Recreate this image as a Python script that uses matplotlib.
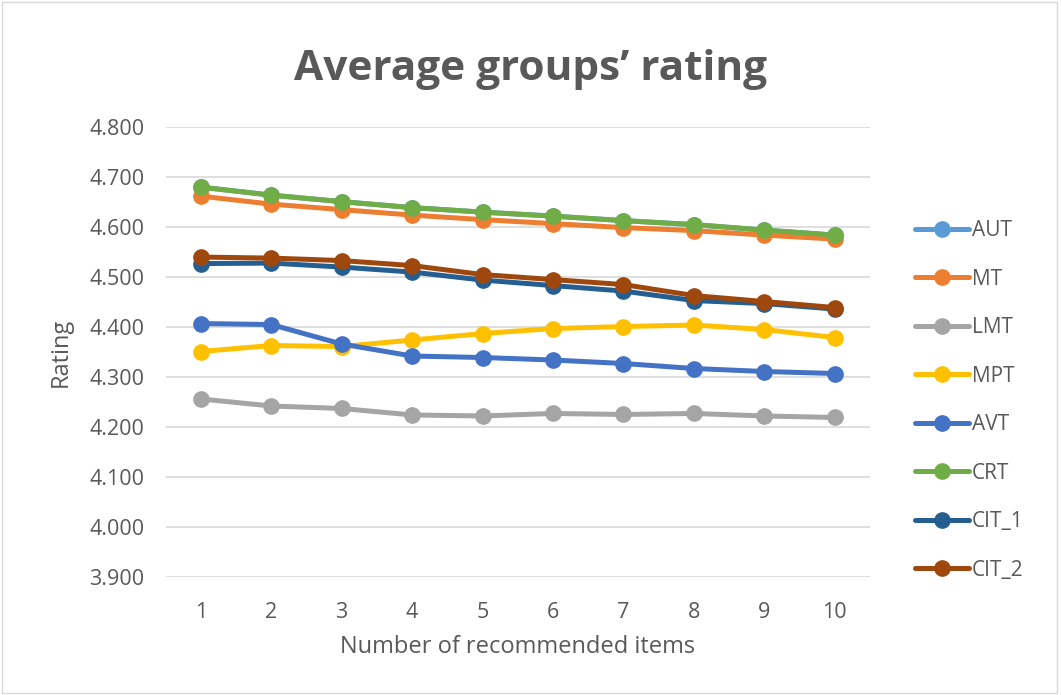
import matplotlib.pyplot as plt
from matplotlib.patches import Rectangle

plt.rcParams["font.family"] = ["Open Sans", "DejaVu Sans"]

items = list(range(1, 11))
series_names = ["AUT", "MT", "LMT", "MPT", "AVT", "CRT", "CIT_1", "CIT_2"]
colors = ["#5B9BD5", "#ED7D31", "#A5A5A5", "#FFC000", "#4472C4", "#70AD47", "#255E91", "#9E480E"]

crt = [4.680, 4.664, 4.651, 4.639, 4.630, 4.622, 4.613, 4.605, 4.594, 4.584]
aut = [4.680, 4.664, 4.651, 4.639, 4.630, 4.622, 4.613, 4.605, 4.594, 4.584]
mt = [4.662, 4.646, 4.635, 4.624, 4.615, 4.607, 4.599, 4.593, 4.584, 4.576]
lmt = [4.256, 4.242, 4.237, 4.224, 4.222, 4.227, 4.225, 4.227, 4.222, 4.219]
mpt = [4.351, 4.363, 4.361, 4.374, 4.387, 4.397, 4.401, 4.404, 4.395, 4.379]
avt = [4.407, 4.405, 4.366, 4.342, 4.339, 4.334, 4.327, 4.317, 4.311, 4.307]
cit_1 = [4.527, 4.528, 4.520, 4.510, 4.494, 4.483, 4.472, 4.453, 4.447, 4.436]
cit_2 = [4.540, 4.538, 4.533, 4.523, 4.505, 4.495, 4.485, 4.463, 4.451, 4.439]

values = [aut, mt, lmt, mpt, avt, crt, cit_1, cit_2]

fig = plt.figure(figsize=(10.61, 6.95), dpi=100)
ax = fig.add_axes([0.156, 0.170, 0.664, 0.647])

for name, color, vals in zip(series_names, colors, values):
    ax.plot(items, vals, color=color, lw=3.6, marker="o", ms=11, label=name,
            solid_capstyle="round")

ax.set_xlim(0.5, 10.5)
ax.set_ylim(3.9, 4.8)
ax.set_xticks(items)
ax.set_yticks([3.9 + 0.1 * i for i in range(10)])
ax.set_yticklabels([f"{3.9 + 0.1 * i:.3f}" for i in range(10)])
ax.grid(axis="y", color="#D9D9D9", lw=1.2)
ax.set_axisbelow(True)
for s in ax.spines.values():
    s.set_visible(False)
ax.tick_params(length=0, labelsize=15.5, colors="#595959")
ax.tick_params(axis="y", pad=15)
ax.tick_params(axis="x", pad=18)
ax.set_xlabel("Number of recommended items", fontsize=17, color="#595959", labelpad=9)
ax.set_ylabel("Rating", fontsize=17, color="#595959", labelpad=12)

fig.text(0.5, 0.885, "Average groups\u2019 rating", ha="center", va="baseline",
         fontsize=30.5, fontweight="bold", color="#595959")

ax.legend(loc="center left", bbox_to_anchor=(0.845, 0.424), bbox_transform=fig.transFigure,
          frameon=False, fontsize=15, labelspacing=1.32, handlelength=2.6,
          handletextpad=0.1, labelcolor="#595959")

fig.patches.append(Rectangle((0.002, 0.003), 0.994, 0.994, transform=fig.transFigure,
                             fill=False, edgecolor="#D9D9D9", lw=1))

fig.savefig("out.png")
